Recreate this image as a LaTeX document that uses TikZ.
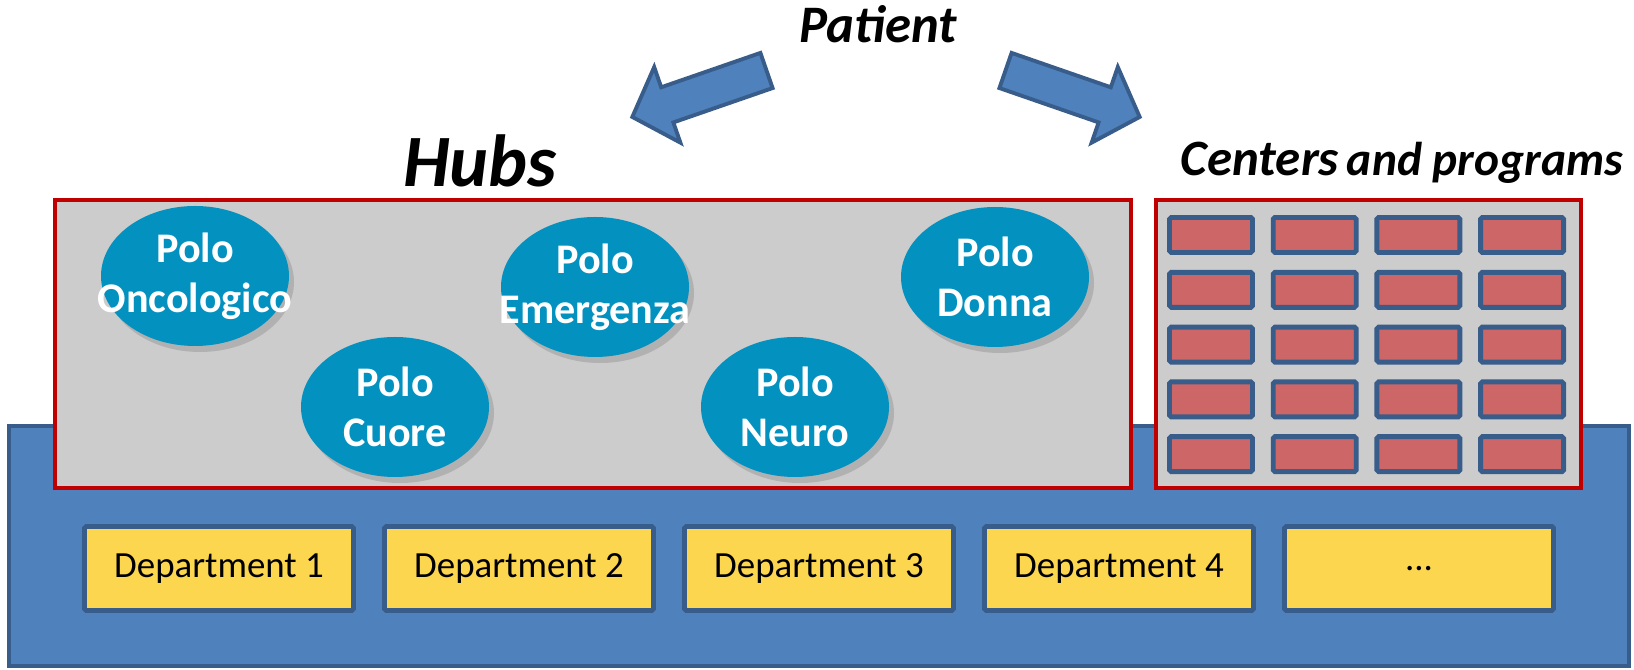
\documentclass[tikz,border=0pt]{standalone}
\usepackage{fontspec}
\setmainfont{Carlito}
\usepackage{tikz}
\usetikzlibrary{shapes.geometric,shadows}
\definecolor{baseblue}{RGB}{79,129,189}
\definecolor{darkblue}{RGB}{56,93,138}
\definecolor{hubgray}{RGB}{204,204,204}
\definecolor{hubred}{RGB}{192,0,0}
\definecolor{polocyan}{RGB}{3,145,191}
\definecolor{depyellow}{RGB}{252,214,78}
\definecolor{progred}{RGB}{205,102,102}

\begin{document}
\begin{tikzpicture}[
  polo/.style={ellipse, fill=polocyan, minimum width=1.88cm, minimum height=1.40cm, inner sep=0pt, drop shadow={opacity=0.35, shadow xshift=0.05cm, shadow yshift=-0.06cm}},
  polotext/.style={align=center, text=white, inner sep=0pt, font=\fontsize{12}{14.2}\selectfont\bfseries},
  dep/.style={draw=darkblue, line width=1.4pt, fill=depyellow, rounded corners=0.5pt, minimum width=2.69cm, minimum height=0.84cm, inner sep=0pt, font=\fontsize{10.5}{12}\selectfont},
  prog/.style={draw=darkblue, line width=1.4pt, fill=progred, rounded corners=0.5pt, minimum width=0.83cm, minimum height=0.35cm, inner sep=0pt},
  frame/.style={draw=hubred, line width=1pt, fill=hubgray, inner sep=0pt, anchor=south west},
  blockarrow/.style={draw=darkblue, line width=1.1pt, fill=baseblue},
  title/.style={anchor=base, font=\bfseries\itshape}
]
\useasboundingbox (0,0) rectangle (16.34,6.70);

\node[draw=darkblue, line width=1.1pt, fill=baseblue, inner sep=0pt, anchor=south west, minimum width=16.20cm, minimum height=2.40cm] (base) at (0.07,0.02) {};

\node[frame, minimum width=10.76cm, minimum height=2.88cm] (hubs) at (0.53,1.80) {};
\node[frame, minimum width=4.25cm, minimum height=2.88cm] (centers) at (11.54,1.80) {};

\node[title, font=\fontsize{21}{25}\selectfont\bfseries\itshape] (hubslabel) at (4.80,4.83) {Hubs};
\node[title] (centerslabel) at (14.02,4.94) {{\fontsize{14.5}{17}\selectfont Centers} {\fontsize{13.5}{16}\selectfont and programs}};
\node[title, font=\fontsize{15}{18}\selectfont\bfseries\itshape] (patient) at (8.78,6.27) {Patient};

\begin{scope}[shift={(7.665,5.995)}, rotate=199.1]
\draw[blockarrow] (0,-0.186) -- (1.05,-0.186) -- (1.05,-0.40) -- (1.42,0) -- (1.05,0.40) -- (1.05,0.186) -- (0,0.186) -- cycle;
\end{scope}
\begin{scope}[shift={(10.055,5.995)}, rotate=-19.1]
\draw[blockarrow] (0,-0.186) -- (1.05,-0.186) -- (1.05,-0.40) -- (1.42,0) -- (1.05,0.40) -- (1.05,0.186) -- (0,0.186) -- cycle;
\end{scope}

\node[polo, label={[polotext]center:Polo\\Oncologico}] (onco) at (1.95,3.94) {};
\node[polo, label={[polotext]center:Polo\\Cuore}] (cuore) at (3.95,2.63) {};
\node[polo, label={[polotext]center:Polo\\Emergenza}] (emerg) at (5.95,3.83) {};
\node[polo, label={[polotext]center:Polo\\Neuro}] (neuro) at (7.95,2.63) {};
\node[polo, label={[polotext]center:Polo\\Donna}] (donna) at (9.95,3.93) {};

\foreach \r in {0,...,4}
  \foreach \c in {0,...,3}
    \node[prog] (prog-\r-\c) at ({12.11+1.037*\c},{4.35-0.548*\r}) {};

\node[dep] (dep1) at (2.19,1.015) {Department 1};
\node[dep, right of=dep1, node distance=3cm] (dep2) {Department 2};
\node[dep, right of=dep2, node distance=3cm] (dep3) {Department 3};
\node[dep, right of=dep3, node distance=3cm] (dep4) {Department 4};
\node[dep, right of=dep4, node distance=3cm] (dep5) {...};
\end{tikzpicture}
\end{document}
